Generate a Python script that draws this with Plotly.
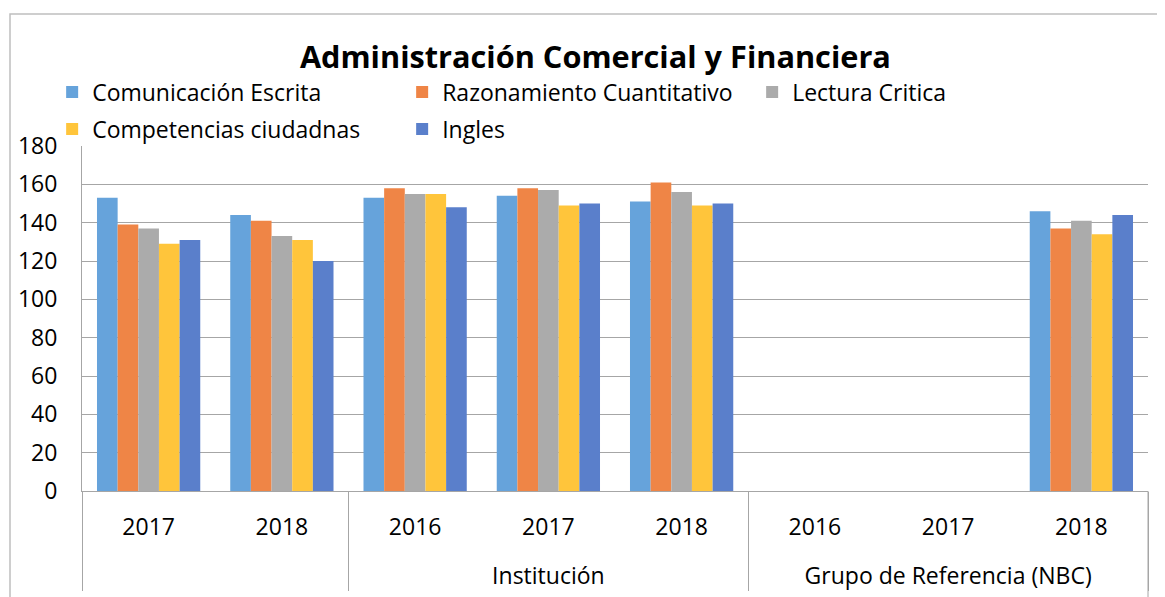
import plotly.graph_objects as go

ZW = "\u200b"  # zero-width prefix keeps the first group's years as separate category keys
groups = ["<br> ", "<br> ", "<br>Institución", "<br>Institución", "<br>Institución",
          "<br>Grupo de Referencia (NBC)", "<br>Grupo de Referencia (NBC)", "<br>Grupo de Referencia (NBC)"]
years = [ZW + "2017", ZW + "2018", "2016", "2017", "2018", "2016", "2017", "2018"]

series_names = ["Comunicación Escrita", "Razonamiento Cuantitativo", "Lectura Critica",
                "Competencias ciudadnas", "Ingles"]
comunicacion = [153, 144, 153, 154, 151, None, None, 146]
razonamiento = [139, 141, 158, 158, 161, None, None, 137]
lectura = [137, 133, 155, 157, 156, None, None, 141]
competencias = [129, 131, 155, 149, 149, None, None, 134]
ingles = [131, 120, 148, 150, 150, None, None, 144]
values = [comunicacion, razonamiento, lectura, competencias, ingles]
colors = ["#66A3DB", "#EF8546", "#ABABAB", "#FFC53B", "#5A7FCB"]
legend_ids = ["legend", "legend", "legend", "legend2", "legend2"]

yticks = list(range(0, 181, 20))

FONT = "Open Sans"
OFF = 8  # page body offset

fig = go.Figure()
for name, vals, col, lg in zip(series_names, values, colors, legend_ids):
    fig.add_trace(go.Bar(
        x=[groups, years], y=vals, name=name,
        marker=dict(color=col, line=dict(width=0)),
        legend=lg,
    ))

legend_common = dict(
    orientation="h", xanchor="left", yanchor="middle",
    font=dict(family=FONT, size=23, color="#000000"),
    entrywidth=305, entrywidthmode="pixels",
    bgcolor="rgba(0,0,0,0)", itemclick=False,
)

fig.update_layout(
    width=1165, height=597,
    margin=dict(l=82 - OFF, r=25, t=146 - OFF, b=114, autoexpand=False),
    paper_bgcolor="white", plot_bgcolor="white",
    barmode="group", bargap=0.225, bargroupgap=0,
    font=dict(family=FONT, size=23, color="#000000"),
    title=dict(text="<b>Administración Comercial y Financiera</b>",
               font=dict(family=FONT, size=30.7, color="#000000"),
               x=0.4816, xref="paper", xanchor="center",
               y=1 - (57 - OFF) / 597, yref="container", yanchor="middle"),
    legend=dict(x=-0.028, y=(491 - 92) / 345, **legend_common),
    legend2=dict(x=-0.028, y=(491 - 129) / 345, **legend_common),
    xaxis=dict(
        type="multicategory",
        showgrid=False, showline=True, linecolor="#A6A6A6", linewidth=1,
        showdividers=True, dividercolor="#A6A6A6", dividerwidth=1,
        tickfont=dict(family=FONT, size=23, color="#000000"),
        ticks="", ticklabelstandoff=15,
    ),
    yaxis=dict(
        range=[0, 180], tickvals=yticks, ticktext=[str(t) for t in yticks],
        showgrid=True, gridcolor="#A6A6A6", gridwidth=1,
        showline=True, linecolor="#A6A6A6", linewidth=1,
        zeroline=False, ticks="", ticklabelstandoff=19,
        tickfont=dict(family=FONT, size=23, color="#000000"),
    ),
    showlegend=True,
    shapes=[
        # outer chart border
        dict(type="rect", xref="paper", yref="paper",
             x0=(10 - 82) / 1066, x1=1.2, y0=-0.5, y1=(491 - 14) / 345,
             line=dict(color="#BFBFBF", width=1.5), fillcolor="rgba(0,0,0,0)",
             layer="below"),
        # right-end category divider
        dict(type="line", xref="paper", yref="paper",
             x0=1, x1=1, y0=0, y1=-0.32,
             line=dict(color="#A6A6A6", width=1), layer="above"),
    ],
)

fig.write_html("out.html")
